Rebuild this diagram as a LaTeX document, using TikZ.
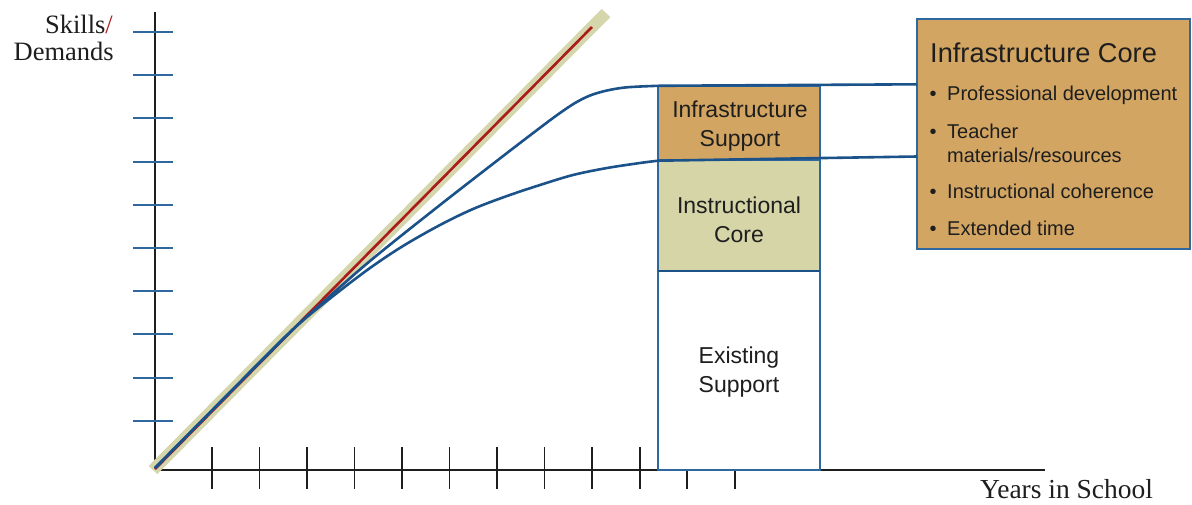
\documentclass[tikz,border=0pt]{standalone}
\usepackage{fontspec}
\setmainfont{Liberation Serif}
\newfontfamily\arialf{Liberation Sans}
\definecolor{orangec}{RGB}{211,165,98}
\definecolor{khakic}{RGB}{213,213,168}
\definecolor{bandc}{RGB}{214,214,172}
\definecolor{curvec}{RGB}{27,82,138}
\definecolor{borderc}{RGB}{46,104,158}
\definecolor{tickc}{RGB}{46,104,158}
\definecolor{redc}{RGB}{170,28,28}
\definecolor{axisc}{RGB}{30,30,30}
\definecolor{textc}{RGB}{30,30,30}
\begin{document}
\begin{tikzpicture}[x=1pt,y=-1pt,
  axisline/.style={draw=axisc,line width=1.6},
  ytick/.style={draw=tickc,line width=2},
  xtick/.style={draw=axisc,line width=1.8},
  boxst/.style={draw=borderc,line width=1.4,inner sep=0,outer sep=0,minimum width=162,anchor=north west},
  curvest/.style={draw=curvec,line width=2.6,line join=round},
  lbl/.style={font=\arialf\fontsize{23}{28}\selectfont,text=textc,inner sep=0,anchor=base},
  item/.style={font=\arialf\fontsize{20}{24}\selectfont,text=textc,inner sep=0,anchor=base west},
  serif/.style={font=\fontsize{26.5}{30}\selectfont,text=textc,inner sep=0}
]
\useasboundingbox (0,0) rectangle (1192,504);
% axes
\coordinate (O) at (155,469);
\coordinate (ytop) at (155,12);
\coordinate (xend) at (1045,470);
\draw[axisline] (ytop) -- (155,470) -- (xend);
\foreach \yy in {32,75,118,162,205,248,291,334,378,421} {
  \draw[ytick] (133,\yy) -- (173,\yy);
}
\foreach \xx in {212,259.5,307,354.5,402,449.5,497,544.5,592,640,687,735} {
  \draw[xtick] (\xx,447) -- (\xx,489);
}
% diagonal band
\coordinate (b0) at (153,470);
\coordinate (b1) at (606,13);
\draw[bandc,line width=12] (b0) -- (b1);
\coordinate (r1) at (592,27);
\draw[redc,line width=2.6] (O) -- (r1);
% boxes
\node[boxst,fill=orangec,minimum height=74] (infs) at (658,86) {};
\node[boxst,fill=khakic,minimum height=111] (inst) at (658,160) {};
\node[boxst,fill=white,minimum height=199] (exis) at (658,271) {};
\draw[curvec,line width=2.6] (inst.south west) -- (inst.south east);
% big box
\node[draw=borderc,line width=1.4,fill=orangec,inner sep=0,outer sep=0,minimum width=273,minimum height=230,anchor=north west] (core) at (917,19) {};
% curves
\coordinate (u1) at (917,84.3);
\coordinate (l1) at (917,156.5);
\draw[curvest] plot[smooth,tension=0.55] coordinates {(155,468) (280,342) (320,305) (370,261) (440,205) (507,153) (545,124) (560,113) (575,103) (590,95.5) (607,90.5) (627,87.3) (658,85.8)} -- (u1);
\draw[curvest] plot[smooth,tension=0.55] coordinates {(155,468) (265,357) (300,323) (337,293) (370,268) (403,246) (440,225) (473,209) (507,196) (540,185) (573,175) (607,168) (640,163) (658,160.7)} -- (l1);
% box labels
\node[lbl] (t1) at (740,117) {Infrastructure};
\node[lbl] (t2) at (740,146) {Support};
\node[lbl] (t3) at (739,213) {Instructional};
\node[lbl] (t4) at (739,242) {Core};
\node[lbl] (t5) at (739,363) {Existing};
\node[lbl] (t6) at (739,392) {Support};
% big box texts
\node[font=\arialf\fontsize{27.2}{30}\selectfont,text=textc,inner sep=0,anchor=base west] (h) at (930,62) {Infrastructure Core};
\node[item] (b1a) at (929.5,100) {•};
\node[item] (i1) at (947,100) {Professional development};
\node[item] (b2a) at (929.5,138) {•};
\node[item] (i2) at (947,138) {Teacher};
\node[item] (i2b) at (947,162) {materials/resources};
\node[item] (b3a) at (929.5,198) {•};
\node[item] (i3) at (947,198) {Instructional coherence};
\node[item] (b4a) at (929.5,235) {•};
\node[item] (i4) at (947,235) {Extended time};
% axis labels
\node[serif,anchor=base east] (sk) at (113,33) {Skills{\color{redc}/}};
\node[serif,anchor=base east] (dm) at (114,60) {Demands};
\node[serif,font=\fontsize{27.5}{30}\selectfont,anchor=base west] (yr) at (980,498) {Years in School};
\end{tikzpicture}
\end{document}
